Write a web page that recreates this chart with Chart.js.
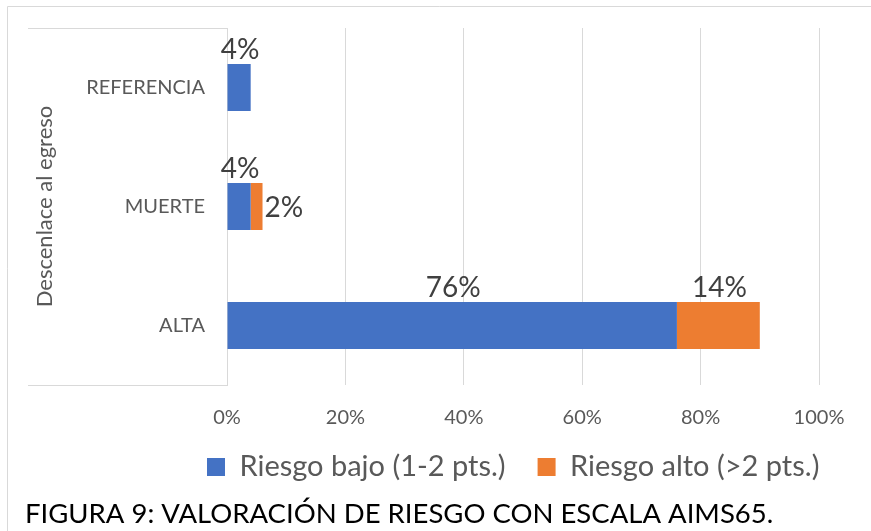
<!DOCTYPE html>
<html>
<head>
<meta charset="utf-8">
<script src="https://cdn.jsdelivr.net/npm/chart.js@4"></script>
<style>
  html, body { margin: 0; padding: 0; background: #fff; }
  #wrap { width: 871px; height: 531px; position: relative; }
</style>
</head>
<body>
<div id="wrap"><canvas id="myChart"></canvas></div>
<script>
const categorias = ['REFERENCIA', 'MUERTE', 'ALTA'];
const riesgoBajo = [4, 4, 76];
const riesgoAlto = [0, 2, 14];
const ticksX = [0, 20, 40, 60, 80, 100];

const gris = '#D9D9D9';
const textoGris = '#595959';

// lineas del marco y de la caja del eje Y
const marco = {
    id: 'marco',
    beforeDraw(chart) {
        const ctx = chart.ctx;
        const a = chart.chartArea;
        ctx.save();
        ctx.strokeStyle = gris;
        ctx.lineWidth = 1;
        ctx.beginPath();
        ctx.moveTo(7.5, 531); ctx.lineTo(7.5, 6.5); ctx.lineTo(871, 6.5);
        ctx.moveTo(28, a.top + 0.5); ctx.lineTo(a.left, a.top + 0.5);
        ctx.moveTo(28, a.bottom + 0.5); ctx.lineTo(a.left, a.bottom + 0.5);
        ctx.stroke();
        ctx.restore();
    }
};

// mueve la leyenda a su sitio (sin tocar la altura del eje X)
const posLeyenda = {
    id: 'posLeyenda',
    afterLayout(chart) {
        const lg = chart.legend;
        lg.left = 175;
        lg.right = 871;
        lg.top = 420.5;
    }
};

// etiquetas de datos
const etiquetas = {
    id: 'etiquetas',
    afterDatasetsDraw(chart) {
        const ctx = chart.ctx;
        ctx.save();
        ctx.font = '28px Lato';
        ctx.fillStyle = '#404040';
        ctx.textBaseline = 'alphabetic';
        chart.data.datasets.forEach((ds, i) => {
            chart.getDatasetMeta(i).data.forEach((bar, j) => {
                const v = ds.data[j];
                if (!v) return;
                const txt = v + '%';
                if (i === 1 && v < 5) {
                    ctx.textAlign = 'left';
                    ctx.fillText(txt, bar.x + 2, bar.y + 10);
                } else {
                    ctx.textAlign = 'center';
                    ctx.fillText(txt, (bar.x + bar.base) / 2 + 1, bar.y - bar.height / 2 - 5);
                }
            });
        });
        ctx.restore();
    }
};

const ctx = document.getElementById('myChart').getContext('2d');
const myChart = new Chart(ctx, {
    type: 'bar',
    data: {
        labels: categorias,
        datasets: [{
            label: 'Riesgo bajo (1-2 pts.)',
            data: riesgoBajo,
            backgroundColor: '#4472C4',
            categoryPercentage: 1,
            barPercentage: 0.395
        }, {
            label: 'Riesgo alto (>2 pts.)',
            data: riesgoAlto,
            backgroundColor: '#ED7D31',
            categoryPercentage: 1,
            barPercentage: 0.395
        }]
    },
    options: {
        indexAxis: 'y',
        responsive: true,
        maintainAspectRatio: false,
        animation: false,
        layout: {
            padding: { left: 25, top: 28, right: 52, bottom: 0 }
        },
        scales: {
            x: {
                stacked: true,
                min: 0,
                max: 100,
                afterBuildTicks: (scale) => { scale.ticks = ticksX.map(v => ({ value: v })); },
                afterFit: (scale) => {
                    scale.height = 40.5;
                    scale.paddingLeft = 0;
                    scale.paddingRight = 0;
                },
                ticks: {
                    callback: (v) => v + '%',
                    color: textoGris,
                    font: { family: 'Lato', size: 20 },
                    padding: 21,
                    maxRotation: 0
                },
                grid: { color: gris, drawTicks: false },
                border: { display: false }
            },
            y: {
                stacked: true,
                afterFit: (scale) => {
                    scale.width = 202;
                    scale.paddingTop = 0;
                    scale.paddingBottom = 0;
                },
                ticks: {
                    color: textoGris,
                    font: { family: 'Lato', size: 20 },
                    padding: 22
                },
                grid: { display: false, drawTicks: false },
                border: { display: true, color: gris },
                title: {
                    display: true,
                    text: 'Descenlace al egreso',
                    color: textoGris,
                    font: { family: 'Lato', size: 22 },
                    padding: { top: 7, bottom: 0 }
                }
            }
        },
        plugins: {
            legend: {
                position: 'bottom',
                align: 'start',
                maxHeight: 66,
                labels: {
                    boxWidth: 18,
                    boxHeight: 18,
                    padding: 32,
                    color: textoGris,
                    font: { family: 'Lato', size: 29 }
                }
            },
            title: {
                display: true,
                position: 'bottom',
                align: 'start',
                text: 'FIGURA 9: VALORACIÓN DE RIESGO CON ESCALA AIMS65.',
                color: '#000',
                font: { family: 'Lato', size: 27.5, weight: 'normal' },
                padding: { top: 6.5, bottom: 0 }
            },
            tooltip: { enabled: false }
        }
    },
    plugins: [marco, posLeyenda, etiquetas]
});
</script>
</body>
</html>
